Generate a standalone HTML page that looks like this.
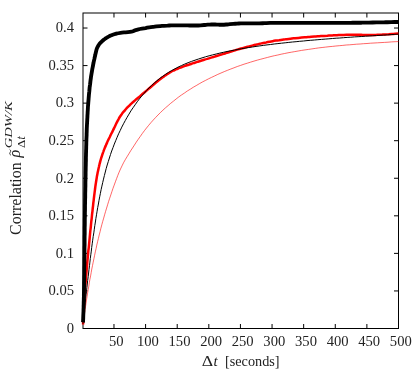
<!DOCTYPE html>
<html><head><meta charset="utf-8"><style>
html,body{margin:0;padding:0;background:#fff;}
body{width:416px;height:382px;overflow:hidden;position:relative;font-family:"Liberation Serif",serif;}
svg{position:absolute;left:0;top:0;}
svg text{font-family:"Liberation Serif",serif;font-size:14.6px;fill:#222;}
</style></head><body>
<svg width="416" height="382" viewBox="0 0 416 382" style="will-change:transform">
<rect width="416" height="382" fill="#fff"/>
<g fill="none" stroke="#000" stroke-width="1">
<rect x="83.0" y="13.0" width="315.5" height="315.5"/>
<path d="M113.98 328.50v-4.5M113.98 13.00v4.5"/><path d="M145.59 328.50v-4.5M145.59 13.00v4.5"/><path d="M177.21 328.50v-4.5M177.21 13.00v4.5"/><path d="M208.82 328.50v-4.5M208.82 13.00v4.5"/><path d="M240.43 328.50v-4.5M240.43 13.00v4.5"/><path d="M272.05 328.50v-4.5M272.05 13.00v4.5"/><path d="M303.66 328.50v-4.5M303.66 13.00v4.5"/><path d="M335.27 328.50v-4.5M335.27 13.00v4.5"/><path d="M366.89 328.50v-4.5M366.89 13.00v4.5"/><path d="M398.50 328.50v-4.5M398.50 13.00v4.5"/><path d="M83.00 328.50h4.5M398.50 328.50h-4.5"/><path d="M83.00 290.94h4.5M398.50 290.94h-4.5"/><path d="M83.00 253.38h4.5M398.50 253.38h-4.5"/><path d="M83.00 215.82h4.5M398.50 215.82h-4.5"/><path d="M83.00 178.26h4.5M398.50 178.26h-4.5"/><path d="M83.00 140.70h4.5M398.50 140.70h-4.5"/><path d="M83.00 103.14h4.5M398.50 103.14h-4.5"/><path d="M83.00 65.58h4.5M398.50 65.58h-4.5"/><path d="M83.00 28.02h4.5M398.50 28.02h-4.5"/>
</g>
<g fill="none" stroke-linejoin="round" stroke-linecap="butt">
<path d="M83.1 324.6C83.1 324.1 83.1 322.4 83.2 321.4C83.2 320.3 83.3 319.2 83.3 318.1C83.4 317.1 83.4 316.0 83.5 314.9C83.5 313.8 83.6 312.8 83.7 311.7C83.7 310.6 83.8 309.5 83.8 308.4C83.9 307.4 84.0 306.3 84.0 305.2C84.1 304.1 84.1 303.1 84.2 302.0C84.3 300.9 84.4 299.8 84.4 298.8C84.5 297.7 84.6 296.6 84.6 295.5C84.7 294.5 84.8 293.4 84.9 292.3C84.9 291.2 85.0 290.2 85.1 289.1C85.2 288.0 85.3 286.9 85.3 285.9C85.4 284.8 85.5 283.7 85.6 282.6C85.7 281.6 85.8 280.5 85.9 279.4C85.9 278.3 86.0 277.3 86.1 276.2C86.2 275.1 86.3 274.0 86.4 273.0C86.5 271.9 86.6 270.8 86.7 269.7C86.8 268.7 86.9 267.6 87.0 266.5C87.1 265.4 87.1 264.4 87.2 263.3C87.3 262.2 87.4 261.2 87.5 260.1C87.6 259.0 87.7 257.9 87.8 256.9C87.9 255.8 88.0 254.7 88.1 253.6C88.2 252.6 88.3 251.5 88.4 250.4C88.5 249.4 88.7 248.3 88.8 247.2C88.9 246.1 89.0 245.1 89.1 244.0C89.2 242.9 89.3 241.8 89.4 240.8C89.5 239.7 89.6 238.6 89.7 237.6C89.8 236.5 89.9 235.4 90.0 234.3C90.1 233.3 90.2 232.2 90.3 231.1C90.4 230.1 90.6 229.0 90.7 227.9C90.8 226.8 90.9 225.8 91.0 224.7C91.1 223.6 91.2 222.5 91.3 221.5C91.4 220.4 91.6 219.3 91.7 218.3C91.8 217.2 91.9 216.1 92.0 215.0C92.1 214.0 92.2 212.9 92.4 211.8C92.5 210.8 92.6 209.7 92.7 208.6C92.8 207.5 93.0 206.5 93.1 205.4C93.2 204.3 93.3 203.2 93.4 202.2C93.6 201.1 93.7 200.0 93.8 199.0C93.9 197.9 94.1 196.8 94.2 195.7C94.3 194.7 94.5 193.6 94.6 192.5C94.7 191.5 94.9 190.4 95.0 189.3C95.1 188.2 95.3 187.2 95.4 186.1C95.6 185.0 95.7 184.0 95.9 182.9C96.1 181.8 96.2 180.8 96.4 179.7C96.6 178.6 96.8 177.6 96.9 176.5C97.1 175.5 97.3 174.4 97.5 173.4C97.7 172.3 98.0 171.2 98.2 170.2C98.4 169.1 98.6 168.1 98.9 167.0C99.1 166.0 99.4 165.0 99.6 163.9C99.9 162.9 100.2 161.8 100.4 160.8C100.7 159.8 101.0 158.7 101.3 157.7C101.7 156.7 102.0 155.7 102.3 154.6C102.7 153.6 103.0 152.6 103.4 151.6C103.7 150.6 104.1 149.6 104.5 148.6C104.9 147.6 105.3 146.6 105.8 145.6C106.2 144.6 106.6 143.6 107.1 142.6C107.5 141.6 108.0 140.6 108.4 139.6C108.9 138.7 109.4 137.7 109.9 136.7C110.3 135.7 110.8 134.8 111.3 133.8C111.8 132.8 112.3 131.8 112.8 130.9C113.2 129.9 113.7 128.9 114.2 127.9C114.7 127.0 115.1 126.0 115.6 125.0C116.1 124.0 116.5 123.1 117.0 122.1C117.5 121.1 118.0 120.2 118.5 119.3C119.0 118.3 119.5 117.4 120.1 116.5C120.7 115.6 121.3 114.7 121.9 113.9C122.5 113.0 123.2 112.2 123.9 111.4C124.5 110.6 125.3 109.8 126.0 109.0C126.7 108.2 127.5 107.4 128.2 106.7C129.0 105.9 129.7 105.2 130.5 104.4C131.3 103.7 132.1 103.0 132.9 102.2C133.7 101.5 134.5 100.8 135.3 100.1C136.1 99.4 137.0 98.7 137.8 98.0C138.6 97.3 139.4 96.6 140.3 95.9C141.1 95.2 141.9 94.5 142.7 93.8C143.6 93.1 144.4 92.4 145.2 91.7C146.1 91.0 146.9 90.3 147.7 89.6C148.5 88.9 149.4 88.2 150.2 87.5C151.0 86.8 151.8 86.1 152.6 85.4C153.5 84.7 154.3 84.0 155.1 83.3C155.9 82.6 156.8 81.9 157.6 81.3C158.4 80.6 159.3 79.9 160.1 79.3C161.0 78.6 161.8 78.0 162.7 77.3C163.6 76.7 164.4 76.1 165.3 75.5C166.2 74.8 167.1 74.3 168.0 73.7C168.9 73.1 169.8 72.6 170.8 72.0C171.7 71.5 172.6 71.0 173.6 70.5C174.6 70.1 175.5 69.6 176.5 69.2C177.5 68.8 178.5 68.3 179.5 67.9C180.5 67.6 181.5 67.2 182.5 66.8C183.6 66.4 184.6 66.1 185.6 65.7C186.6 65.4 187.6 65.0 188.7 64.7C189.7 64.4 190.7 64.0 191.7 63.7C192.8 63.4 193.8 63.0 194.8 62.7C195.9 62.4 196.9 62.1 197.9 61.7C198.9 61.4 200.0 61.1 201.0 60.8C202.0 60.5 203.1 60.1 204.1 59.8C205.1 59.5 206.1 59.2 207.2 58.9C208.2 58.6 209.2 58.3 210.3 57.9C211.3 57.6 212.3 57.3 213.4 57.0C214.4 56.7 215.4 56.3 216.5 56.0C217.5 55.7 218.5 55.4 219.5 55.1C220.6 54.8 221.6 54.4 222.6 54.1C223.7 53.8 224.7 53.5 225.7 53.2C226.8 52.8 227.8 52.5 228.8 52.2C229.9 51.9 230.9 51.6 231.9 51.3C233.0 51.0 234.0 50.7 235.0 50.4C236.1 50.0 237.1 49.7 238.1 49.4C239.2 49.1 240.2 48.8 241.2 48.5C242.3 48.3 243.3 48.0 244.3 47.7C245.4 47.4 246.4 47.1 247.5 46.8C248.5 46.5 249.5 46.3 250.6 46.0C251.6 45.7 252.7 45.5 253.7 45.2C254.8 44.9 255.8 44.7 256.9 44.4C257.9 44.2 258.9 43.9 260.0 43.7C261.0 43.5 262.1 43.2 263.2 43.0C264.2 42.8 265.3 42.6 266.3 42.4C267.4 42.1 268.4 41.9 269.5 41.7C270.5 41.5 271.6 41.4 272.7 41.2C273.7 41.0 274.8 40.8 275.9 40.6C276.9 40.5 278.0 40.3 279.1 40.2C280.1 40.0 281.2 39.8 282.3 39.7C283.3 39.6 284.4 39.4 285.5 39.3C286.5 39.1 287.6 39.0 288.7 38.9C289.8 38.8 290.8 38.7 291.9 38.5C293.0 38.4 294.0 38.3 295.1 38.2C296.2 38.1 297.3 38.0 298.3 37.9C299.4 37.8 300.5 37.7 301.6 37.6C302.6 37.5 303.7 37.4 304.8 37.3C305.9 37.2 306.9 37.1 308.0 37.0C309.1 37.0 310.2 36.9 311.2 36.8C312.3 36.7 313.4 36.6 314.5 36.5C315.5 36.5 316.6 36.4 317.7 36.3C318.8 36.2 319.8 36.2 320.9 36.1C322.0 36.0 323.0 35.9 324.1 35.9C325.2 35.8 326.3 35.7 327.3 35.7C328.4 35.6 329.5 35.6 330.6 35.5C331.6 35.4 332.7 35.4 333.8 35.3C334.9 35.3 335.9 35.2 337.0 35.2C338.1 35.1 339.2 35.1 340.3 35.0C341.3 35.0 342.4 35.0 343.5 34.9C344.6 34.9 345.6 34.9 346.7 34.8C347.8 34.8 348.9 34.8 350.0 34.8C351.0 34.8 352.1 34.8 353.2 34.8C354.3 34.8 355.3 34.8 356.4 34.8C357.5 34.8 358.6 34.8 359.7 34.8C360.7 34.8 361.8 34.9 362.9 34.9C364.0 34.9 365.0 34.9 366.1 34.9C367.2 34.9 368.3 35.0 369.3 35.0C370.4 35.0 371.5 35.0 372.6 34.9C373.6 34.9 374.7 34.9 375.8 34.9C376.9 34.8 377.9 34.8 379.0 34.7C380.1 34.7 381.2 34.6 382.3 34.6C383.3 34.5 384.4 34.4 385.5 34.4C386.6 34.3 387.6 34.2 388.7 34.2C389.8 34.1 390.9 34.0 391.9 33.9C393.0 33.9 394.1 33.8 395.2 33.7C396.2 33.6 397.9 33.5 398.4 33.5" stroke="#f00" stroke-width="2.5"/>
<path d="M82.9 323.9C83.0 323.3 83.2 321.5 83.3 320.3C83.5 319.1 83.6 317.9 83.7 316.7C83.8 315.5 84.0 314.3 84.1 313.1C84.2 311.9 84.4 310.7 84.5 309.5C84.6 308.3 84.8 307.1 84.9 305.9C85.0 304.6 85.2 303.4 85.3 302.2C85.4 301.0 85.6 299.8 85.7 298.6C85.8 297.4 86.0 296.2 86.1 294.9C86.2 293.7 86.4 292.5 86.5 291.3C86.6 290.1 86.8 288.9 86.9 287.6C87.1 286.4 87.2 285.2 87.3 284.0C87.5 282.8 87.6 281.6 87.7 280.3C87.9 279.1 88.0 277.9 88.2 276.7C88.3 275.5 88.4 274.2 88.6 273.0C88.7 271.8 88.9 270.6 89.0 269.4C89.2 268.2 89.3 266.9 89.5 265.7C89.6 264.5 89.7 263.3 89.9 262.1C90.0 260.8 90.2 259.6 90.3 258.4C90.5 257.2 90.7 256.0 90.8 254.7C91.0 253.5 91.1 252.3 91.3 251.1C91.4 249.9 91.6 248.7 91.7 247.4C91.9 246.2 92.1 245.0 92.2 243.8C92.4 242.6 92.6 241.4 92.7 240.2C92.9 238.9 93.1 237.7 93.2 236.5C93.4 235.3 93.6 234.1 93.8 232.9C93.9 231.7 94.1 230.5 94.3 229.2C94.5 228.0 94.6 226.8 94.8 225.6C95.0 224.4 95.2 223.2 95.4 222.0C95.6 220.8 95.8 219.6 95.9 218.4C96.1 217.2 96.3 216.0 96.5 214.8C96.7 213.6 96.9 212.4 97.1 211.2C97.3 210.0 97.5 208.8 97.7 207.6C97.9 206.4 98.2 205.2 98.4 204.0C98.6 202.8 98.8 201.6 99.0 200.4C99.2 199.2 99.5 198.0 99.7 196.8C99.9 195.6 100.2 194.4 100.4 193.3C100.6 192.1 100.9 190.9 101.1 189.7C101.4 188.5 101.6 187.3 101.9 186.1C102.2 185.0 102.4 183.8 102.7 182.6C103.0 181.4 103.2 180.2 103.5 179.1C103.8 177.9 104.1 176.7 104.4 175.5C104.7 174.4 105.0 173.2 105.3 172.0C105.6 170.8 105.9 169.7 106.2 168.5C106.6 167.3 106.9 166.2 107.2 165.0C107.6 163.8 107.9 162.7 108.3 161.5C108.6 160.3 109.0 159.2 109.4 158.0C109.7 156.8 110.1 155.7 110.5 154.5C110.9 153.4 111.3 152.2 111.7 151.0C112.1 149.9 112.6 148.7 113.0 147.6C113.4 146.4 113.9 145.3 114.3 144.1C114.8 143.0 115.2 141.8 115.7 140.7C116.2 139.5 116.6 138.4 117.1 137.3C117.6 136.1 118.1 135.0 118.6 133.8C119.1 132.7 119.7 131.6 120.2 130.5C120.7 129.3 121.3 128.2 121.8 127.1C122.4 126.0 122.9 124.9 123.5 123.8C124.1 122.7 124.7 121.6 125.3 120.5C125.9 119.4 126.5 118.3 127.1 117.3C127.7 116.2 128.3 115.1 129.0 114.1C129.6 113.0 130.3 112.0 130.9 110.9C131.6 109.9 132.3 108.8 133.0 107.8C133.6 106.8 134.3 105.8 135.1 104.8C135.8 103.8 136.5 102.8 137.2 101.8C137.9 100.8 138.7 99.9 139.4 98.9C140.2 97.9 141.0 97.0 141.7 96.1C142.5 95.1 143.3 94.2 144.1 93.3C144.9 92.4 145.7 91.5 146.5 90.6C147.4 89.7 148.2 88.8 149.0 88.0C149.9 87.1 150.8 86.3 151.6 85.5C152.5 84.6 153.4 83.8 154.3 83.0C155.2 82.2 156.1 81.4 157.0 80.7C157.9 79.9 158.9 79.2 159.8 78.4C160.8 77.7 161.7 77.0 162.7 76.3C163.7 75.6 164.6 74.9 165.6 74.3C166.6 73.6 167.6 73.0 168.7 72.3C169.7 71.7 170.7 71.1 171.8 70.5C172.8 69.9 173.8 69.3 174.9 68.8C176.0 68.2 177.0 67.7 178.1 67.1C179.2 66.6 180.3 66.1 181.4 65.6C182.5 65.1 183.6 64.6 184.7 64.1C185.8 63.6 187.0 63.2 188.1 62.7C189.2 62.3 190.4 61.8 191.5 61.4C192.7 61.0 193.8 60.6 195.0 60.2C196.1 59.7 197.3 59.4 198.5 59.0C199.6 58.6 200.8 58.2 202.0 57.9C203.1 57.5 204.3 57.2 205.5 56.8C206.7 56.5 207.9 56.1 209.1 55.8C210.3 55.5 211.5 55.2 212.6 54.9C213.8 54.6 215.0 54.3 216.2 54.0C217.4 53.7 218.6 53.4 219.8 53.1C221.0 52.8 222.2 52.6 223.4 52.3C224.6 52.0 225.8 51.8 227.0 51.5C228.3 51.3 229.5 51.0 230.7 50.8C231.9 50.5 233.1 50.3 234.3 50.1C235.5 49.8 236.7 49.6 237.9 49.4C239.1 49.2 240.3 48.9 241.5 48.7C242.7 48.5 243.9 48.3 245.2 48.1C246.4 47.9 247.6 47.7 248.8 47.5C250.0 47.3 251.2 47.1 252.4 47.0C253.6 46.8 254.8 46.6 256.0 46.4C257.3 46.2 258.5 46.1 259.7 45.9C260.9 45.7 262.1 45.6 263.3 45.4C264.5 45.3 265.7 45.1 267.0 44.9C268.2 44.8 269.4 44.6 270.6 44.5C271.8 44.3 273.0 44.2 274.2 44.0C275.5 43.9 276.7 43.8 277.9 43.6C279.1 43.5 280.3 43.3 281.5 43.2C282.7 43.1 284.0 42.9 285.2 42.8C286.4 42.7 287.6 42.5 288.8 42.4C290.0 42.3 291.2 42.2 292.4 42.0C293.7 41.9 294.9 41.8 296.1 41.7C297.3 41.5 298.5 41.4 299.7 41.3C300.9 41.2 302.2 41.1 303.4 41.0C304.6 40.8 305.8 40.7 307.0 40.6C308.2 40.5 309.4 40.4 310.7 40.3C311.9 40.2 313.1 40.1 314.3 40.0C315.5 39.9 316.7 39.8 317.9 39.7C319.2 39.6 320.4 39.5 321.6 39.4C322.8 39.3 324.0 39.2 325.2 39.1C326.4 39.0 327.7 38.9 328.9 38.8C330.1 38.7 331.3 38.6 332.5 38.5C333.7 38.4 335.0 38.3 336.2 38.2C337.4 38.1 338.6 38.1 339.8 38.0C341.0 37.9 342.3 37.8 343.5 37.7C344.7 37.6 345.9 37.5 347.1 37.4C348.3 37.4 349.6 37.3 350.8 37.2C352.0 37.1 353.2 37.0 354.4 36.9C355.7 36.9 356.9 36.8 358.1 36.7C359.3 36.6 360.5 36.5 361.8 36.5C363.0 36.4 364.2 36.3 365.4 36.2C366.6 36.2 367.9 36.1 369.1 36.0C370.3 35.9 371.5 35.8 372.7 35.8C374.0 35.7 375.2 35.6 376.4 35.5C377.6 35.5 378.9 35.4 380.1 35.3C381.3 35.2 382.5 35.2 383.7 35.1C385.0 35.0 386.2 34.9 387.4 34.9C388.6 34.8 389.9 34.7 391.1 34.6C392.3 34.6 393.5 34.5 394.8 34.4C396.0 34.3 397.8 34.2 398.4 34.2" stroke="#000" stroke-width="1"/>
<path d="M83.1 324.0C83.2 323.4 83.4 321.7 83.6 320.5C83.7 319.4 83.9 318.2 84.0 317.1C84.2 316.0 84.4 314.8 84.5 313.7C84.7 312.5 84.8 311.4 85.0 310.2C85.2 309.1 85.3 308.0 85.5 306.8C85.7 305.7 85.8 304.5 86.0 303.4C86.2 302.2 86.4 301.1 86.5 299.9C86.7 298.8 86.9 297.7 87.1 296.5C87.3 295.4 87.4 294.2 87.6 293.1C87.8 291.9 88.0 290.8 88.2 289.6C88.4 288.5 88.6 287.3 88.8 286.2C89.0 285.1 89.1 283.9 89.3 282.8C89.5 281.6 89.7 280.5 89.9 279.3C90.2 278.2 90.4 277.0 90.6 275.9C90.8 274.8 91.0 273.6 91.2 272.5C91.4 271.3 91.6 270.2 91.8 269.0C92.1 267.9 92.3 266.8 92.5 265.6C92.7 264.5 93.0 263.3 93.2 262.2C93.4 261.1 93.6 259.9 93.9 258.8C94.1 257.6 94.3 256.5 94.6 255.4C94.8 254.2 95.1 253.1 95.3 251.9C95.6 250.8 95.8 249.7 96.1 248.5C96.3 247.4 96.6 246.3 96.8 245.1C97.1 244.0 97.3 242.9 97.6 241.7C97.9 240.6 98.1 239.5 98.4 238.4C98.7 237.2 99.0 236.1 99.2 235.0C99.5 233.8 99.8 232.7 100.1 231.6C100.4 230.5 100.6 229.3 100.9 228.2C101.2 227.1 101.5 226.0 101.8 224.8C102.1 223.7 102.4 222.6 102.7 221.5C103.0 220.4 103.3 219.2 103.7 218.1C104.0 217.0 104.3 215.9 104.6 214.8C104.9 213.7 105.2 212.6 105.6 211.4C105.9 210.3 106.2 209.2 106.6 208.1C106.9 207.0 107.2 205.9 107.6 204.8C107.9 203.7 108.3 202.6 108.6 201.5C109.0 200.4 109.3 199.3 109.7 198.2C110.0 197.1 110.4 196.0 110.8 194.9C111.1 193.8 111.5 192.7 111.9 191.6C112.3 190.5 112.6 189.4 113.0 188.3C113.4 187.3 113.8 186.2 114.2 185.1C114.6 184.0 115.0 182.9 115.4 181.8C115.8 180.8 116.2 179.7 116.6 178.6C117.0 177.5 117.4 176.5 117.8 175.4C118.3 174.3 118.7 173.2 119.1 172.2C119.6 171.1 120.0 170.1 120.5 169.0C121.0 168.0 121.5 166.9 122.0 165.9C122.5 164.9 123.0 163.8 123.5 162.8C124.1 161.8 124.6 160.8 125.2 159.8C125.8 158.8 126.4 157.8 127.0 156.8C127.6 155.8 128.2 154.8 128.8 153.9C129.4 152.9 130.0 151.9 130.6 150.9C131.3 150.0 131.9 149.0 132.5 148.0C133.2 147.0 133.8 146.0 134.4 145.1C135.1 144.1 135.7 143.1 136.3 142.1C137.0 141.2 137.6 140.2 138.3 139.2C138.9 138.3 139.6 137.3 140.3 136.4C140.9 135.4 141.6 134.5 142.3 133.5C143.0 132.6 143.7 131.7 144.4 130.7C145.1 129.8 145.8 128.9 146.5 128.0C147.2 127.1 148.0 126.2 148.7 125.3C149.4 124.4 150.2 123.5 150.9 122.7C151.7 121.8 152.5 120.9 153.2 120.1C154.0 119.2 154.8 118.4 155.6 117.5C156.4 116.7 157.2 115.8 158.0 115.0C158.8 114.2 159.6 113.4 160.4 112.6C161.3 111.8 162.1 111.0 162.9 110.2C163.8 109.4 164.6 108.6 165.5 107.8C166.3 107.1 167.2 106.3 168.1 105.6C168.9 104.8 169.8 104.1 170.7 103.3C171.6 102.6 172.5 101.9 173.4 101.2C174.3 100.4 175.2 99.7 176.1 99.0C177.0 98.3 177.9 97.6 178.8 96.9C179.8 96.3 180.7 95.6 181.6 94.9C182.6 94.3 183.5 93.6 184.5 93.0C185.4 92.3 186.4 91.7 187.3 91.0C188.3 90.4 189.3 89.8 190.3 89.2C191.2 88.5 192.2 87.9 193.2 87.3C194.2 86.7 195.2 86.1 196.2 85.6C197.2 85.0 198.2 84.4 199.2 83.8C200.2 83.3 201.2 82.7 202.2 82.1C203.2 81.6 204.3 81.0 205.3 80.5C206.3 80.0 207.4 79.4 208.4 78.9C209.4 78.4 210.5 77.9 211.5 77.4C212.6 76.9 213.6 76.4 214.7 75.9C215.7 75.4 216.8 74.9 217.8 74.4C218.9 73.9 220.0 73.5 221.0 73.0C222.1 72.5 223.2 72.1 224.3 71.6C225.3 71.2 226.4 70.7 227.5 70.3C228.6 69.9 229.7 69.4 230.8 69.0C231.8 68.6 232.9 68.2 234.0 67.8C235.1 67.3 236.2 66.9 237.3 66.5C238.4 66.1 239.5 65.8 240.6 65.4C241.7 65.0 242.9 64.6 244.0 64.2C245.1 63.9 246.2 63.5 247.3 63.2C248.4 62.8 249.5 62.4 250.7 62.1C251.8 61.8 252.9 61.4 254.0 61.1C255.1 60.8 256.3 60.4 257.4 60.1C258.5 59.8 259.6 59.5 260.8 59.2C261.9 58.9 263.0 58.6 264.2 58.3C265.3 58.0 266.4 57.7 267.6 57.4C268.7 57.1 269.8 56.8 271.0 56.5C272.1 56.3 273.2 56.0 274.4 55.7C275.5 55.5 276.6 55.2 277.8 55.0C278.9 54.7 280.0 54.5 281.2 54.2C282.3 54.0 283.4 53.7 284.6 53.5C285.7 53.3 286.8 53.1 288.0 52.8C289.1 52.6 290.3 52.4 291.4 52.2C292.5 52.0 293.7 51.8 294.8 51.6C295.9 51.4 297.1 51.2 298.2 51.0C299.3 50.8 300.5 50.6 301.6 50.4C302.8 50.2 303.9 50.0 305.0 49.9C306.2 49.7 307.3 49.5 308.5 49.4C309.6 49.2 310.7 49.0 311.9 48.9C313.0 48.7 314.2 48.5 315.3 48.4C316.4 48.2 317.6 48.1 318.7 47.9C319.9 47.8 321.0 47.7 322.1 47.5C323.3 47.4 324.4 47.2 325.6 47.1C326.7 47.0 327.9 46.9 329.0 46.7C330.1 46.6 331.3 46.5 332.4 46.4C333.6 46.2 334.7 46.1 335.9 46.0C337.0 45.9 338.2 45.8 339.3 45.7C340.5 45.6 341.6 45.5 342.8 45.4C343.9 45.2 345.1 45.1 346.2 45.0C347.4 44.9 348.5 44.9 349.7 44.8C350.8 44.7 352.0 44.6 353.1 44.5C354.3 44.4 355.4 44.3 356.6 44.2C357.7 44.1 358.9 44.0 360.1 44.0C361.2 43.9 362.4 43.8 363.5 43.7C364.7 43.6 365.9 43.5 367.0 43.5C368.2 43.4 369.3 43.3 370.5 43.2C371.7 43.2 372.8 43.1 374.0 43.0C375.2 42.9 376.3 42.9 377.5 42.8C378.6 42.7 379.8 42.6 381.0 42.6C382.2 42.5 383.3 42.4 384.5 42.4C385.7 42.3 386.8 42.2 388.0 42.2C389.2 42.1 390.4 42.0 391.5 41.9C392.7 41.9 393.9 41.8 395.1 41.7C396.2 41.7 398.0 41.6 398.6 41.5" stroke="#f00" stroke-width="0.6"/>
<path d="M83.0 322.4C83.1 321.8 83.1 320.0 83.2 318.7C83.2 317.5 83.3 316.3 83.3 315.1C83.4 313.8 83.4 312.6 83.5 311.4C83.5 310.2 83.5 309.0 83.6 307.7C83.6 306.5 83.6 305.3 83.7 304.1C83.7 302.8 83.7 301.6 83.8 300.4C83.8 299.2 83.8 298.0 83.9 296.7C83.9 295.5 83.9 294.3 83.9 293.1C84.0 291.9 84.0 290.6 84.0 289.4C84.0 288.2 84.1 287.0 84.1 285.7C84.1 284.5 84.1 283.3 84.1 282.1C84.2 280.9 84.2 279.6 84.2 278.4C84.2 277.2 84.2 276.0 84.3 274.7C84.3 273.5 84.3 272.3 84.3 271.1C84.3 269.9 84.3 268.6 84.3 267.4C84.4 266.2 84.4 265.0 84.4 263.7C84.4 262.5 84.4 261.3 84.4 260.1C84.4 258.9 84.4 257.6 84.5 256.4C84.5 255.2 84.5 254.0 84.5 252.7C84.5 251.5 84.5 250.3 84.5 249.1C84.5 247.9 84.5 246.6 84.6 245.4C84.6 244.2 84.6 243.0 84.6 241.7C84.6 240.5 84.6 239.3 84.6 238.1C84.6 236.9 84.6 235.6 84.7 234.4C84.7 233.2 84.7 232.0 84.7 230.7C84.7 229.5 84.7 228.3 84.7 227.1C84.8 225.9 84.8 224.6 84.8 223.4C84.8 222.2 84.8 221.0 84.8 219.7C84.8 218.5 84.9 217.3 84.9 216.1C84.9 214.9 84.9 213.6 84.9 212.4C85.0 211.2 85.0 210.0 85.0 208.7C85.0 207.5 85.0 206.3 85.0 205.1C85.1 203.8 85.1 202.6 85.1 201.4C85.1 200.2 85.1 199.0 85.2 197.7C85.2 196.5 85.2 195.3 85.2 194.1C85.2 192.8 85.3 191.6 85.3 190.4C85.3 189.2 85.3 188.0 85.4 186.7C85.4 185.5 85.4 184.3 85.4 183.1C85.4 181.8 85.5 180.6 85.5 179.4C85.5 178.2 85.5 177.0 85.6 175.7C85.6 174.5 85.6 173.3 85.6 172.1C85.7 170.8 85.7 169.6 85.7 168.4C85.7 167.2 85.8 166.0 85.8 164.7C85.8 163.5 85.8 162.3 85.9 161.1C85.9 159.9 85.9 158.6 85.9 157.4C86.0 156.2 86.0 155.0 86.0 153.7C86.1 152.5 86.1 151.3 86.1 150.1C86.2 148.9 86.2 147.6 86.2 146.4C86.3 145.2 86.3 144.0 86.3 142.7C86.4 141.5 86.4 140.3 86.4 139.1C86.5 137.9 86.5 136.6 86.6 135.4C86.6 134.2 86.6 133.0 86.7 131.8C86.7 130.5 86.8 129.3 86.8 128.1C86.9 126.9 86.9 125.6 87.0 124.4C87.1 123.2 87.1 122.0 87.2 120.8C87.2 119.5 87.3 118.3 87.4 117.1C87.4 115.9 87.5 114.7 87.6 113.4C87.6 112.2 87.7 111.0 87.8 109.8C87.9 108.6 87.9 107.3 88.0 106.1C88.1 104.9 88.2 103.7 88.3 102.5C88.4 101.2 88.5 100.0 88.6 98.8C88.7 97.6 88.8 96.4 88.9 95.1C89.0 93.9 89.1 92.7 89.3 91.5C89.4 90.3 89.5 89.1 89.6 87.8C89.8 86.6 89.9 85.4 90.1 84.2C90.2 83.0 90.4 81.8 90.5 80.6C90.7 79.4 90.9 78.1 91.0 76.9C91.2 75.7 91.4 74.5 91.6 73.3C91.8 72.1 92.0 70.9 92.2 69.7C92.4 68.5 92.7 67.3 92.9 66.1C93.1 64.9 93.3 63.7 93.6 62.5C93.8 61.3 94.1 60.1 94.4 58.9C94.6 57.7 94.9 56.5 95.2 55.3C95.4 54.1 95.7 52.9 96.0 51.7C96.3 50.5 96.6 49.3 97.0 48.2C97.5 47.1 98.1 46.0 98.7 45.0C99.4 44.0 100.2 43.1 101.1 42.2C101.9 41.3 102.9 40.5 103.8 39.7C104.8 39.0 105.8 38.2 106.8 37.6C107.9 36.9 109.0 36.4 110.1 35.8C111.2 35.3 112.3 34.9 113.4 34.5C114.6 34.1 115.8 33.7 116.9 33.5C118.1 33.2 119.3 33.0 120.5 32.8C121.7 32.6 123.0 32.5 124.2 32.4C125.4 32.3 126.7 32.4 127.9 32.2C129.1 32.1 130.3 32.0 131.5 31.7C132.6 31.4 133.8 30.8 134.9 30.4C136.1 30.1 137.2 29.7 138.4 29.4C139.6 29.1 140.8 28.9 142.0 28.7C143.2 28.5 144.4 28.3 145.6 28.1C146.8 27.8 148.0 27.6 149.3 27.4C150.5 27.3 151.7 27.1 152.9 26.9C154.1 26.7 155.3 26.6 156.5 26.4C157.7 26.3 158.9 26.2 160.2 26.1C161.4 26.0 162.6 25.9 163.8 25.8C165.0 25.7 166.3 25.6 167.5 25.6C168.7 25.5 169.9 25.5 171.1 25.4C172.4 25.4 173.6 25.4 174.8 25.4C176.0 25.4 177.3 25.3 178.5 25.3C179.7 25.3 180.9 25.3 182.1 25.4C183.4 25.4 184.6 25.4 185.8 25.4C187.0 25.4 188.3 25.5 189.5 25.5C190.7 25.5 191.9 25.5 193.2 25.5C194.4 25.5 195.6 25.5 196.8 25.5C198.0 25.5 199.3 25.4 200.5 25.3C201.7 25.2 202.9 25.1 204.1 25.0C205.3 24.9 206.6 24.7 207.8 24.6C209.0 24.6 210.2 24.5 211.4 24.5C212.7 24.5 213.9 24.5 215.1 24.5C216.3 24.6 217.6 24.6 218.8 24.7C220.0 24.7 221.2 24.7 222.4 24.7C223.7 24.7 224.9 24.6 226.1 24.5C227.3 24.5 228.5 24.3 229.8 24.2C231.0 24.1 232.2 24.0 233.4 23.9C234.6 23.8 235.9 23.7 237.1 23.6C238.3 23.5 239.5 23.5 240.7 23.4C242.0 23.4 243.2 23.3 244.4 23.3C245.6 23.3 246.8 23.3 248.1 23.3C249.3 23.3 250.5 23.3 251.7 23.3C253.0 23.3 254.2 23.3 255.4 23.3C256.6 23.3 257.9 23.3 259.1 23.3C260.3 23.3 261.5 23.3 262.7 23.2C264.0 23.2 265.2 23.1 266.4 23.1C267.6 23.0 268.8 22.9 270.1 22.9C271.3 22.9 272.5 22.8 273.7 22.8C275.0 22.8 276.2 22.8 277.4 22.8C278.6 22.8 279.8 22.8 281.1 22.8C282.3 22.8 283.5 22.8 284.7 22.8C286.0 22.8 287.2 22.9 288.4 22.9C289.6 22.9 290.8 22.9 292.1 22.9C293.3 22.9 294.5 22.9 295.7 22.9C297.0 22.9 298.2 22.9 299.4 22.9C300.6 22.9 301.8 22.9 303.1 22.9C304.3 22.9 305.5 22.9 306.7 22.9C308.0 22.9 309.2 22.9 310.4 22.9C311.6 22.9 312.8 22.9 314.1 22.9C315.3 22.9 316.5 22.9 317.7 22.9C319.0 22.9 320.2 22.9 321.4 22.9C322.6 22.9 323.8 22.9 325.1 22.9C326.3 22.9 327.5 22.9 328.7 22.9C330.0 22.9 331.2 22.9 332.4 22.9C333.6 22.9 334.8 22.9 336.1 22.9C337.3 22.9 338.5 22.9 339.7 22.8C341.0 22.8 342.2 22.8 343.4 22.8C344.6 22.8 345.8 22.8 347.1 22.8C348.3 22.8 349.5 22.8 350.7 22.8C352.0 22.8 353.2 22.7 354.4 22.7C355.6 22.7 356.8 22.7 358.1 22.7C359.3 22.7 360.5 22.7 361.7 22.7C363.0 22.6 364.2 22.6 365.4 22.6C366.6 22.6 367.8 22.6 369.1 22.6C370.3 22.5 371.5 22.5 372.7 22.5C374.0 22.5 375.2 22.5 376.4 22.4C377.6 22.4 378.8 22.4 380.1 22.4C381.3 22.3 382.5 22.3 383.7 22.3C385.0 22.3 386.2 22.2 387.4 22.2C388.6 22.2 389.8 22.2 391.1 22.1C392.3 22.1 393.5 22.1 394.7 22.0C396.0 22.0 397.8 22.0 398.4 22.0" stroke="#000" stroke-width="3.85"/>
</g>

<g><text x="116.3" y="346.2" text-anchor="middle">50</text><text x="147.9" y="346.2" text-anchor="middle">100</text><text x="179.5" y="346.2" text-anchor="middle">150</text><text x="211.1" y="346.2" text-anchor="middle">200</text><text x="242.7" y="346.2" text-anchor="middle">250</text><text x="274.3" y="346.2" text-anchor="middle">300</text><text x="306.0" y="346.2" text-anchor="middle">350</text><text x="337.6" y="346.2" text-anchor="middle">400</text><text x="369.2" y="346.2" text-anchor="middle">450</text><text x="400.8" y="346.2" text-anchor="middle">500</text></g>
<g><text x="74" y="332.8" text-anchor="end">0</text><text x="74" y="295.2" text-anchor="end">0.05</text><text x="74" y="257.7" text-anchor="end">0.1</text><text x="74" y="220.1" text-anchor="end">0.15</text><text x="74" y="182.6" text-anchor="end">0.2</text><text x="74" y="145.0" text-anchor="end">0.25</text><text x="74" y="107.4" text-anchor="end">0.3</text><text x="74" y="69.9" text-anchor="end">0.35</text><text x="74" y="32.3" text-anchor="end">0.4</text></g>
<text x="201.8" y="366.2" style="font-size:14.7px" textLength="11.4" lengthAdjust="spacingAndGlyphs">Δ</text>
<text x="213.6" y="366.2" style="font-size:15px;font-style:italic">t</text>
<text x="225" y="366.2" style="font-size:14.6px" textLength="54.6" lengthAdjust="spacingAndGlyphs">[seconds]</text>
<g transform="translate(20.9,234.5) rotate(-90)">
<text x="-0.4" y="0" style="font-size:17px" textLength="72.6" lengthAdjust="spacingAndGlyphs">Correlation</text>
<text x="77" y="-0.6" style="font-size:16px;font-style:italic">ρ</text>
<path d="M79.3 -10.1c0.9 -1.3 1.9 -1.3 2.9 -0.6s2 0.7 2.9 -0.6" fill="none" stroke="#222" stroke-width="0.9"/>
<text x="86.3" y="-8.6" style="font-size:10.9px;font-style:italic" textLength="47" lengthAdjust="spacingAndGlyphs">GDW/K</text>
<text x="86.5" y="4" style="font-size:10.6px" textLength="8.2" lengthAdjust="spacingAndGlyphs">Δ</text>
<text x="95" y="4" style="font-size:11.5px;font-style:italic">t</text>
</g>
</svg>
</body></html>
